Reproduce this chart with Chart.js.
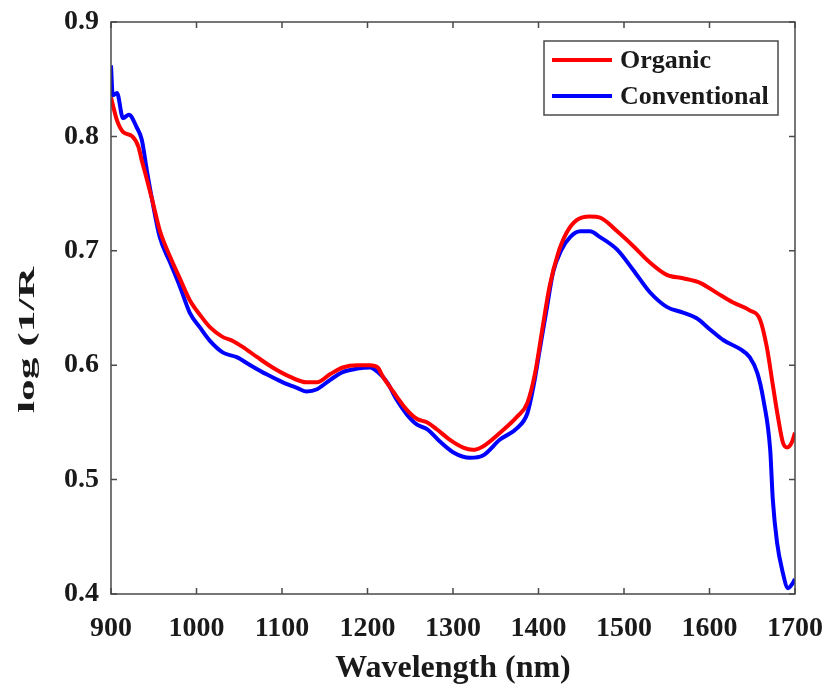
<!DOCTYPE html>
<html>
<head>
<meta charset="utf-8">
<script src="https://cdn.jsdelivr.net/npm/chart.js@4/dist/chart.umd.min.js"></script>
<style>
  html, body { margin: 0; padding: 0; background: #ffffff; }
  #wrap { width: 829px; height: 688px; }
</style>
</head>
<body>
<div id="wrap"><canvas id="spectra" width="829" height="688"></canvas></div>
<script>
// NIR absorbance spectra, log(1/R) against wavelength (nm)
const organicWavelength = [900, 907, 914, 925, 932, 936, 940, 948, 957, 969, 981, 992, 1004, 1016, 1030, 1043, 1054, 1071, 1089, 1109, 1129, 1141, 1156, 1171, 1188, 1203, 1212, 1218, 1230, 1246, 1258, 1270, 1281, 1296, 1312, 1323, 1335, 1355, 1375, 1387, 1396, 1405, 1413, 1423, 1433, 1445, 1460, 1472, 1492, 1511, 1530, 1550, 1569, 1589, 1609, 1627, 1647, 1659, 1667, 1674, 1680, 1686, 1691, 1696, 1700];
const organicValues = [0.834, 0.814, 0.804, 0.800, 0.791, 0.779, 0.768, 0.745, 0.718, 0.695, 0.675, 0.657, 0.644, 0.633, 0.625, 0.621, 0.616, 0.607, 0.598, 0.590, 0.585, 0.585, 0.592, 0.598, 0.600, 0.600, 0.598, 0.590, 0.577, 0.561, 0.553, 0.550, 0.544, 0.535, 0.528, 0.526, 0.529, 0.541, 0.555, 0.567, 0.593, 0.634, 0.669, 0.698, 0.716, 0.727, 0.730, 0.729, 0.717, 0.704, 0.690, 0.679, 0.676, 0.672, 0.663, 0.655, 0.648, 0.640, 0.616, 0.583, 0.555, 0.532, 0.528, 0.532, 0.541];

const conventionalWavelength = [900, 902, 907, 914, 921, 930, 936, 942, 948, 957, 969, 981, 992, 1004, 1016, 1031, 1047, 1063, 1082, 1101, 1118, 1129, 1141, 1156, 1171, 1188, 1203, 1212, 1223, 1234, 1246, 1258, 1270, 1285, 1300, 1320, 1335, 1355, 1375, 1387, 1394, 1402, 1410, 1417, 1427, 1437, 1449, 1460, 1472, 1492, 1511, 1530, 1550, 1569, 1585, 1601, 1616, 1636, 1647, 1656, 1663, 1671, 1674, 1679, 1685, 1692, 1696, 1700];
const conventionalValues = [0.862, 0.836, 0.838, 0.816, 0.819, 0.808, 0.797, 0.770, 0.745, 0.712, 0.690, 0.668, 0.646, 0.633, 0.621, 0.611, 0.607, 0.600, 0.592, 0.585, 0.580, 0.577, 0.579, 0.587, 0.594, 0.597, 0.598, 0.594, 0.585, 0.570, 0.557, 0.548, 0.544, 0.533, 0.524, 0.519, 0.521, 0.535, 0.545, 0.558, 0.581, 0.616, 0.651, 0.681, 0.701, 0.712, 0.717, 0.717, 0.712, 0.701, 0.683, 0.664, 0.651, 0.646, 0.641, 0.631, 0.622, 0.614, 0.607, 0.593, 0.570, 0.526, 0.483, 0.445, 0.421, 0.405, 0.408, 0.413];

const xTicks = [900, 1000, 1100, 1200, 1300, 1400, 1500, 1600, 1700];
const yTicks = [0.4, 0.5, 0.6, 0.7, 0.8, 0.9];

const seriesNames = ['Organic', 'Conventional'];
const seriesColors = ['#ff0000', '#0000ff'];

const SERIF = '"Liberation Serif", "Times New Roman", serif';
const FRAME = '#4a4a4a';

function toPoints(xs, ys) {
  return xs.map((x, i) => ({ x: x, y: ys[i] }));
}

// Boxed frame with inward-pointing ticks on all four sides
const framePlugin = {
  id: 'frame',
  afterDatasetsDraw(chart) {
    const { ctx, chartArea: a, scales: { x, y } } = chart;
    const len = 6;
    ctx.save();
    ctx.strokeStyle = FRAME;
    ctx.lineWidth = 1.5;
    ctx.strokeRect(a.left, a.top, a.right - a.left, a.bottom - a.top);
    ctx.beginPath();
    xTicks.forEach(v => {
      const px = x.getPixelForValue(v);
      ctx.moveTo(px, a.bottom); ctx.lineTo(px, a.bottom - len);
      ctx.moveTo(px, a.top); ctx.lineTo(px, a.top + len);
    });
    yTicks.forEach(v => {
      const py = y.getPixelForValue(v);
      ctx.moveTo(a.left, py); ctx.lineTo(a.left + len, py);
      ctx.moveTo(a.right, py); ctx.lineTo(a.right - len, py);
    });
    ctx.stroke();
    ctx.restore();
  }
};

// Legend box in the upper right corner of the plot
const legendBoxPlugin = {
  id: 'legendBox',
  afterDatasetsDraw(chart) {
    const { ctx } = chart;
    const box = { x: 544, y: 41, w: 234, h: 74 };
    ctx.save();
    ctx.fillStyle = '#ffffff';
    ctx.fillRect(box.x, box.y, box.w, box.h);
    ctx.strokeStyle = FRAME;
    ctx.lineWidth = 1.5;
    ctx.strokeRect(box.x, box.y, box.w, box.h);
    ctx.font = 'bold 26px ' + SERIF;
    ctx.textBaseline = 'middle';
    ctx.textAlign = 'left';
    chart.data.datasets.forEach((ds, i) => {
      const cy = box.y + 19 + i * 36;
      ctx.strokeStyle = ds.borderColor;
      ctx.lineWidth = 4;
      ctx.beginPath();
      ctx.moveTo(box.x + 8, cy);
      ctx.lineTo(box.x + 68, cy);
      ctx.stroke();
      ctx.fillStyle = '#1a1a1a';
      ctx.fillText(ds.label, box.x + 76, cy + 1);
    });
    ctx.restore();
  }
};

// Vertical axis title, stretched along its length
const yTitlePlugin = {
  id: 'yTitle',
  afterDraw(chart) {
    const { ctx } = chart;
    const text = 'log (1/R';
    ctx.save();
    ctx.font = 'bold 24px ' + SERIF;
    const w = ctx.measureText(text).width;
    ctx.translate(28, 340);
    ctx.rotate(-Math.PI / 2);
    ctx.scale(146 / w, 1);
    ctx.fillStyle = '#1a1a1a';
    ctx.textAlign = 'center';
    ctx.textBaseline = 'middle';
    ctx.fillText(text, 0, 0);
    ctx.restore();
  }
};

new Chart(document.getElementById('spectra'), {
  type: 'line',
  data: {
    datasets: [
      {
        label: seriesNames[0],
        data: toPoints(organicWavelength, organicValues),
        borderColor: seriesColors[0],
        backgroundColor: seriesColors[0],
        borderWidth: 4,
        pointRadius: 0,
        cubicInterpolationMode: 'monotone',
        fill: false
      },
      {
        label: seriesNames[1],
        data: toPoints(conventionalWavelength, conventionalValues),
        borderColor: seriesColors[1],
        backgroundColor: seriesColors[1],
        borderWidth: 4,
        pointRadius: 0,
        cubicInterpolationMode: 'monotone',
        fill: false
      }
    ]
  },
  options: {
    responsive: false,
    animation: false,
    layout: { padding: { top: 22, right: 34, left: 0, bottom: 0 } },
    plugins: {
      legend: { display: false },
      tooltip: { enabled: false }
    },
    scales: {
      x: {
        type: 'linear',
        min: 900,
        max: 1700,
        afterBuildTicks(scale) { scale.ticks = xTicks.map(v => ({ value: v })); },
        afterFit(scale) {
          scale.height = 94;
          scale.paddingLeft = 0;
          scale.paddingRight = 0;
        },
        grid: { display: false, drawTicks: false },
        border: { display: false },
        ticks: {
          padding: 18,
          color: '#1a1a1a',
          font: { family: SERIF, size: 28, weight: 'bold' },
          maxRotation: 0,
          callback: v => String(v)
        },
        title: {
          display: true,
          text: 'Wavelength (nm)',
          color: '#1a1a1a',
          font: { family: SERIF, size: 32, weight: 'bold' },
          padding: { top: 0, bottom: 0 }
        }
      },
      y: {
        type: 'linear',
        min: 0.4,
        max: 0.9,
        afterBuildTicks(scale) { scale.ticks = yTicks.map(v => ({ value: v })); },
        afterFit(scale) {
          scale.width = 111;
          scale.paddingTop = 0;
          scale.paddingBottom = 0;
        },
        grid: { display: false, drawTicks: false },
        border: { display: false },
        ticks: {
          padding: 12,
          color: '#1a1a1a',
          font: { family: SERIF, size: 28, weight: 'bold' },
          callback: v => v.toFixed(1)
        }
      }
    }
  },
  plugins: [framePlugin, legendBoxPlugin, yTitlePlugin]
});
</script>
</body>
</html>
